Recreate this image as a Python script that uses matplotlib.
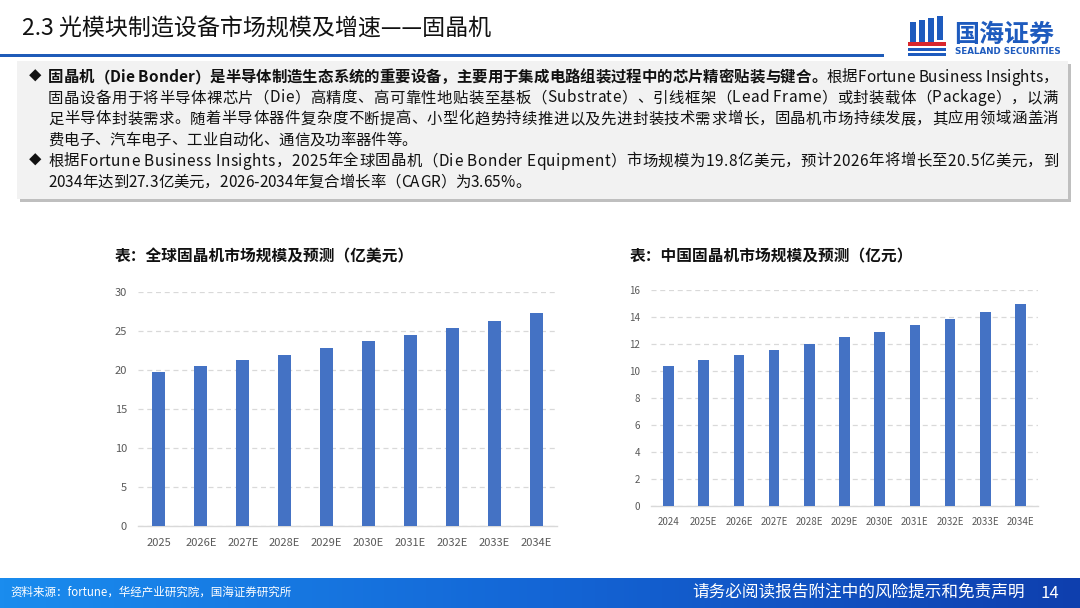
import matplotlib
matplotlib.use("Agg")
import matplotlib.pyplot as plt
import numpy as np
from matplotlib.patches import Rectangle
from matplotlib.colors import LinearSegmentedColormap
from matplotlib.font_manager import FontProperties

plt.rcParams['font.family'] = ['Noto Sans CJK SC', 'DejaVu Sans']

# ---------------- data ----------------
global_years = ["2025", "2026E", "2027E", "2028E", "2029E", "2030E", "2031E", "2032E", "2033E", "2034E"]
global_values = [19.8, 20.5, 21.3, 22.0, 22.9, 23.7, 24.5, 25.4, 26.3, 27.3]
global_yticks = [0, 5, 10, 15, 20, 25, 30]

china_years = ["2024", "2025E", "2026E", "2027E", "2028E", "2029E", "2030E", "2031E", "2032E", "2033E", "2034E"]
china_values = [10.4, 10.8, 11.2, 11.6, 12.0, 12.5, 12.9, 13.4, 13.9, 14.4, 15.0]
china_yticks = [0, 2, 4, 6, 8, 10, 12, 14, 16]

title_text = "2.3 光模块制造设备市场规模及增速——固晶机"
left_title = "表：全球固晶机市场规模及预测（亿美元）"
right_title = "表：中国固晶机市场规模及预测（亿元）"
bullet1_bold = "固晶机（Die Bonder）是半导体制造生态系统的重要设备，主要用于集成电路组装过程中的芯片精密贴装与键合。"
bullet1_rest = "根据Fortune Business Insights，"
bullet1_lines = [
    "固晶设备用于将半导体裸芯片（Die）高精度、高可靠性地贴装至基板（Substrate）、引线框架（Lead Frame）或封装载体（Package），以满",
    "足半导体封装需求。随着半导体器件复杂度不断提高、小型化趋势持续推进以及先进封装技术需求增长，固晶机市场持续发展，其应用领域涵盖消",
    "费电子、汽车电子、工业自动化、通信及功率器件等。",
]
bullet2_lines = [
    "根据Fortune Business Insights，2025年全球固晶机（Die Bonder Equipment）市场规模为19.8亿美元，预计2026年将增长至20.5亿美元，到",
    "2034年达到27.3亿美元，2026-2034年复合增长率（CAGR）为3.65%。",
]
source_text = "资料来源：fortune，华经产业研究院，国海证券研究所"
disclaimer_text = "请务必阅读报告附注中的风险提示和免责声明"
page_no = "14"

W, H = 1080, 608
fig = plt.figure(figsize=(W / 100, H / 100), dpi=100)
fig.patch.set_facecolor("white")
fig.canvas.draw()
renderer = fig.canvas.get_renderer()


def fx(x):
    return x / W


def fy(y):
    return 1 - y / H


# background overlay axes for shapes
bg = fig.add_axes([0, 0, 1, 1])
bg.set_xlim(0, W)
bg.set_ylim(H, 0)
bg.axis("off")

# header line
bg.add_patch(Rectangle((0, 53.5), 884, 3.5, color="#1F5BB8", lw=0))

# logo (approximation)
bg.add_patch(Rectangle((910, 22), 6, 22, color="#1E5BBE", lw=0))
bg.add_patch(Rectangle((919, 20), 6, 24, color="#1E5BBE", lw=0))
bg.add_patch(Rectangle((928, 18), 6, 26, color="#1E5BBE", lw=0))
bg.add_patch(Rectangle((937, 16), 6, 24, color="#1E5BBE", lw=0))
bg.add_patch(Rectangle((908, 42), 38, 4, color="#D9262C", lw=0))
bg.add_patch(Rectangle((908, 48), 38, 3, color="#1E5BBE", lw=0))
bg.add_patch(Rectangle((908, 53), 38, 3, color="#1E5BBE", lw=0))
fig.text(fx(954), fy(35), "国海证券", fontsize=18, fontweight="bold", color="#1E5BBE", va="center", ha="left")
fig.text(fx(955), fy(52), "SEALAND SECURITIES", fontsize=6.3, fontweight="bold", color="#1E5BBE", va="center", ha="left",
         family=["DejaVu Sans"])

# title
fig.text(fx(22), fy(29), title_text, fontsize=16.6, color="#111111", va="center", ha="left")

# text box with shadow
bg.add_patch(Rectangle((20, 64), 1051, 138, color="#BFBFBF", lw=0))
bg.add_patch(Rectangle((17, 61), 1051, 138, color="#F2F2F2", lw=0))

fs_box = 11.1
line_y = [77, 98, 119, 140, 161, 182]
tx = 48
x_right = 1058


def char_width(ch, weight):
    t = fig.text(0, 0, ch, fontsize=fs_box, fontweight=weight)
    w = t.get_window_extent(renderer=renderer).width
    t.remove()
    return w


def draw_line(segments, y, justify):
    chars = []
    for txt, weight in segments:
        for ch in txt:
            chars.append((ch, weight, char_width(ch, weight)))
    total = sum(c[2] for c in chars)
    extra = 0.0
    if justify and len(chars) > 1:
        extra = (x_right - tx - total) / (len(chars) - 1)
    x = tx
    for ch, weight, w in chars:
        if ch != " ":
            fig.text(fx(x), fy(y), ch, fontsize=fs_box, fontweight=weight, va="center", ha="left", color="#111111")
        x += w + extra


fig.text(fx(29), fy(line_y[0]), "◆", fontsize=9, va="center", ha="left", color="#111111")
draw_line([(bullet1_bold, "bold"), (bullet1_rest, "normal")], line_y[0], True)
draw_line([(bullet1_lines[0], "normal")], line_y[1], True)
draw_line([(bullet1_lines[1], "normal")], line_y[2], True)
draw_line([(bullet1_lines[2], "normal")], line_y[3], False)
fig.text(fx(29), fy(line_y[4]), "◆", fontsize=9, va="center", ha="left", color="#111111")
draw_line([(bullet2_lines[0], "normal")], line_y[4], True)
draw_line([(bullet2_lines[1], "normal")], line_y[5], False)

# footer gradient
grad = np.linspace(0, 1, 256).reshape(1, -1)
cmap = LinearSegmentedColormap.from_list("foot", ["#1A8CEE", "#1466D6", "#0E3FAE"])
bg.imshow(grad, extent=(0, W, H, 578), aspect="auto", cmap=cmap, zorder=0)
bg.set_xlim(0, W)
bg.set_ylim(H, 0)
fig.text(fx(10), fy(592), source_text, fontsize=8.3, color="white", va="center", ha="left")
fig.text(fx(692), fy(593), disclaimer_text, fontsize=12, color="white", va="center", ha="left")
fig.text(fx(1040), fy(593), page_no, fontsize=12, color="white", va="center", ha="left")

# chart titles
fig.text(fx(115), fy(256), left_title, fontsize=11.3, fontweight="bold", color="#111111", va="center", ha="left")
fig.text(fx(630), fy(256), right_title, fontsize=11.3, fontweight="bold", color="#111111", va="center", ha="left")

bar_color = "#4472C4"
tick_color = "#595959"
grid_color = "#D9D9D9"


def style_axes(ax, fs):
    for s in ["top", "right", "left"]:
        ax.spines[s].set_visible(False)
    ax.spines["bottom"].set_color("#D9D9D9")
    ax.spines["bottom"].set_linewidth(1.0)
    ax.tick_params(axis="both", length=0, colors=tick_color, labelsize=fs)
    ax.yaxis.grid(True, linestyle=(0, (4, 3)), color=grid_color, linewidth=0.9)
    ax.set_axisbelow(True)
    ax.patch.set_alpha(0)


# left chart: axes from x 138..557, y 292..526
axL = fig.add_axes([fx(138), fy(526), (557 - 138) / W, (526 - 292.3) / H])
xL = np.arange(len(global_years))
axL.bar(xL, global_values, width=0.31, color=bar_color, zorder=3)
axL.set_xlim(-0.5, len(global_years) - 0.5)
axL.set_ylim(0, 30)
axL.set_yticks(global_yticks)
axL.set_xticks(xL)
axL.set_xticklabels(global_years)
style_axes(axL, 8)
axL.tick_params(axis="x", pad=9)
axL.tick_params(axis="y", pad=8)

# right chart: axes x 651..1038, y 290.3..505.7
axR = fig.add_axes([fx(651), fy(505.7), (1038 - 651) / W, (505.7 - 290.3) / H])
xR = np.arange(len(china_years))
axR.bar(xR, china_values, width=0.30, color=bar_color, zorder=3)
axR.set_xlim(-0.5, len(china_years) - 0.5)
axR.set_ylim(0, 16)
axR.set_yticks(china_yticks)
axR.set_xticks(xR)
axR.set_xticklabels(china_years)
style_axes(axR, 7)
axR.tick_params(axis="x", pad=8)
axR.tick_params(axis="y", pad=8)

fig.savefig("out.png", dpi=100, facecolor="white")
